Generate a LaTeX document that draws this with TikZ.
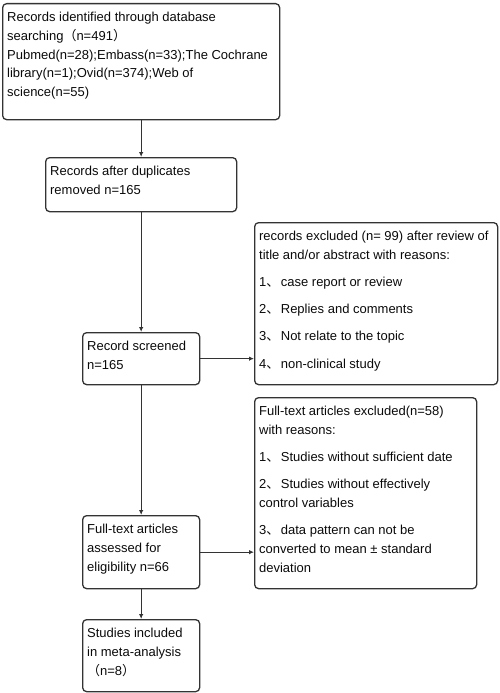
\documentclass[tikz,border=0pt]{standalone}
\usepackage{fontspec}
\setmainfont{Liberation Sans}
\newfontfamily\cjk{Noto Sans CJK SC}
\usetikzlibrary{arrows.meta}
\definecolor{linec}{HTML}{333333}
\definecolor{txtc}{HTML}{0A0A0A}
\newcommand\bxtext[4]{\parbox[c][#2][t]{#1}{\parindent=0pt\leftskip=4.5pt\rightskip=0pt plus 1fil\baselineskip=18.7pt\parskip=#3\rule{0pt}{18pt}#4}}
\newcommand\cjkc[1]{{\cjk #1}}
\newcommand\dun{{\cjk 、}\kern1.5pt}
\tikzset{
  fbox/.style={draw=linec, line width=1.3pt, rounded corners=4pt, inner sep=0pt, anchor=north west, text=txtc},
  conn/.style={draw=linec, line width=1.3pt, -{Latex[length=5pt,width=4.5pt]}}
}
\begin{document}
\begin{tikzpicture}[x=1pt,y=-1pt,font=\fontsize{13pt}{18.7pt}\selectfont]
\useasboundingbox (0,0) rectangle (500,693);
\node[fbox] (b1) at (2,3) {\bxtext{277pt}{116pt}{0pt}{Records identified through database\newline searching\cjkc{（}n=491\cjkc{）}\par Pubmed(n=28);Embass(n=33);The Cochrane\newline library(n=1);Ovid(n=374);Web of\newline science(n=55)}};
\node[fbox] (b2) at (45,157) {\bxtext{191pt}{54pt}{0pt}{Records after duplicates\newline removed n=165}};
\node[fbox] (b3) at (82,332) {\bxtext{117pt}{52pt}{0pt}{Record screened\newline n=165}};
\node[fbox] (e1) at (254,222) {\bxtext{243pt}{162pt}{8.5pt}{records excluded (n= 99) after review of\newline title and/or abstract with reasons:\par 1\dun case report or review\par 2\dun Replies and comments\par 3\dun Not relate to the topic\par 4\dun non-clinical study}};
\node[fbox] (b4) at (82,515) {\bxtext{117pt}{73pt}{0pt}{Full-text articles\newline assessed for\newline eligibility n=66}};
\node[fbox] (e2) at (254,397) {\bxtext{222pt}{191pt}{8.5pt}{Full-text articles excluded(n=58)\newline with reasons:\par 1\dun Studies without sufficient date\par 2\dun Studies without effectively\newline control variables\par 3\dun data pattern can not be\newline converted to mean ± standard\newline deviation}};
\node[fbox] (b5) at (82,619) {\bxtext{117pt}{72pt}{0pt}{Studies included\newline in meta-analysis\newline \cjkc{（}n=8\cjkc{）}}};
\draw[conn] (b1) -- (b2);
\draw[conn] (b2) -- (b3);
\draw[conn] (b3) -- (b4);
\draw[conn] (b4) -- (b5);
\draw[conn] (b3.east) -- (b3.east -| e1.west);
\draw[conn] (b4.east) -- (b4.east -| e2.west);
\end{tikzpicture}
\end{document}
